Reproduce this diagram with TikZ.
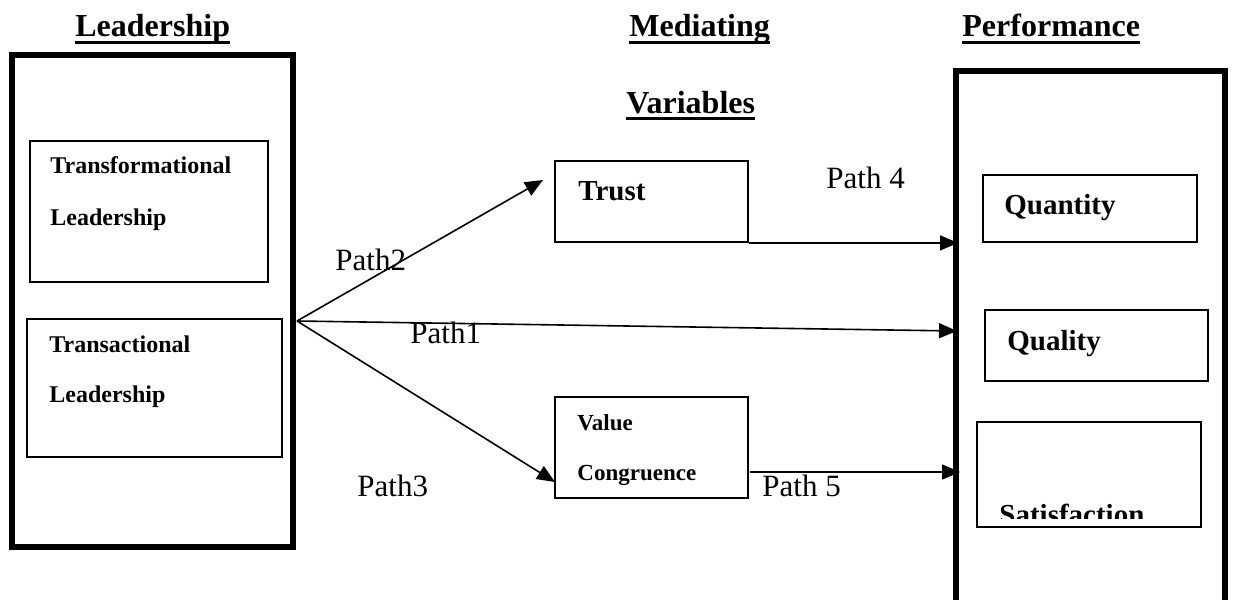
\documentclass[tikz,border=0pt]{standalone}
\usepackage{fontspec}
\setmainfont{Liberation Serif}
\usetikzlibrary{arrows.meta,fit}
\begin{document}
\begin{tikzpicture}[x=0.5pt,y=-0.5pt,
  bigbox/.style={draw, line width=3pt, inner sep=0pt},
  box/.style={draw, line width=0.9pt, inner sep=0pt},
  head/.style={font=\bfseries\fontsize{16}{19}\selectfont, inner sep=0pt, anchor=base west},
  smalllab/.style={font=\bfseries\fontsize{12}{14}\selectfont, inner sep=0pt, anchor=base west},
  vclab/.style={font=\bfseries\fontsize{11.5}{14}\selectfont, inner sep=0pt, anchor=base west},
  biglab/.style={font=\bfseries\fontsize{14.5}{17}\selectfont, inner sep=0pt, anchor=base west},
  pathlab/.style={font=\fontsize{15.5}{18}\selectfont, inner sep=0pt, anchor=base west},
  arr/.style={line width=0.8pt, -{Triangle[length=9pt,width=7.5pt]}},
  uline/.style={line width=1.6pt}]
\clip (0,0) rectangle (1234,599);
\fill[white] (0,0) rectangle (1234,599);

% headers
\node[head] (hlead) at (75,37) {Leadership};
\node[head] (hmed) at (629,37) {Mediating};
\node[head] (hvar) at (626,113) {Variables};
\node[head] (hperf) at (962,37) {Performance};
\foreach \h in {hlead,hmed,hvar,hperf}
  \draw[uline] ([yshift=-2.8pt]\h.base west) -- ([yshift=-2.8pt]\h.base east);

% big boxes
\node[bigbox, fit={(12,55) (293,547)}] (lead) {};
\node[bigbox, fit={(956,71) (1225,660)}] (perf) {};

% leadership sub-boxes
\node[box, fit={(30,141) (268,282)}] (tfbox) {};
\node[smalllab] (tf1) at (50,173) {Transformational};
\node[smalllab] (tf2) at (50,225) {Leadership};
\node[box, fit={(27,319) (282,457)}] (tabox) {};
\node[smalllab] (ta1) at (49,352) {Transactional};
\node[smalllab] (ta2) at (49,402) {Leadership};

% mediating boxes
\node[box, fit={(555,161) (748,242)}] (trust) {};
\node[biglab] (trustt) at (578,200) {Trust};
\node[box, fit={(555,397) (748,498)}] (vc) {};
\node[vclab] (vc1) at (577,430) {Value};
\node[vclab] (vc2) at (577,480) {Congruence};

% performance boxes
\node[box, fit={(983,175) (1197,242)}] (qty) {};
\node[biglab] (qtyt) at (1004,214) {Quantity};
\node[box, fit={(985,310) (1208,381)}] (qly) {};
\node[biglab] (qlyt) at (1007,350) {Quality};
\node[box, fit={(977,422) (1201,527)}] (sat) {};
\begin{scope}
  \clip (977,422) rectangle (1201,518);
  \node[biglab] (satt) at (999,524) {Satisfaction};
\end{scope}

% connectors
\coordinate (o) at (297,321);
\coordinate (p2end) at (543,180);
\coordinate (p3end) at (555,482);
\coordinate (p1end) at (957,331);
\coordinate (p4end) at (958,243);
\coordinate (p5end) at (960,472);
\coordinate (p5start) at (750,472);
\draw[arr] (o) -- (p2end);
\draw[arr] (o) -- (p1end);
\draw[arr] (o) -- (p3end);
\draw[arr] (trust.south east) -- (trust.south east -| p4end);
\draw[arr] (p5start) -- (p5end);

% path labels
\node[pathlab] (l2) at (335,270) {Path2};
\node[pathlab] (l1) at (410,343) {Path1};
\node[pathlab] (l3) at (357,496) {Path3};
\node[pathlab] (l4) at (826,188) {Path 4};
\node[pathlab] (l5) at (762,496) {Path 5};
\end{tikzpicture}
\end{document}
